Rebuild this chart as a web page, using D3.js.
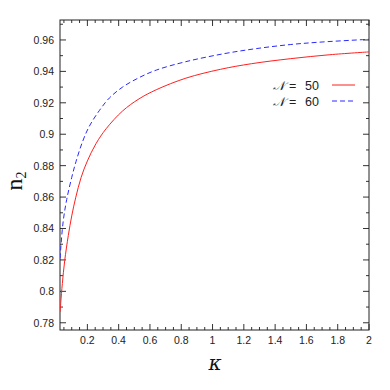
<!DOCTYPE html>
<html><head><meta charset="utf-8">
<script src="https://cdn.jsdelivr.net/npm/d3@7/dist/d3.min.js"></script>
<style>body{margin:0;background:#fff}svg{display:block}</style>
</head><body>
<svg id="c" width="390" height="390"></svg>
<script>
// data
const kappaN50 = [0.026,0.03,0.04,0.055,0.078,0.1,0.125,0.16,0.2,0.255,0.32,0.425,0.53,0.64,0.83,1.05,1.25,1.5,1.75,2.0];
const n2N50    = [0.787,0.793,0.805,0.8195,0.8355,0.848,0.8595,0.8725,0.883,0.894,0.9035,0.9148,0.9225,0.9283,0.9357,0.9413,0.9449,0.9481,0.9506,0.9524];
const kappaN60 = [0.026,0.031,0.046,0.068,0.1,0.127,0.17,0.212,0.276,0.34,0.425,0.53,0.64,0.83,1.07,1.28,1.5,1.7,2.0];
const n2N60    = [0.821,0.829,0.845,0.8585,0.8725,0.8825,0.8955,0.905,0.915,0.923,0.930,0.936,0.9408,0.9462,0.9512,0.9545,0.9571,0.9587,0.9604];
const xTicks = [0.2,0.4,0.6,0.8,1,1.2,1.4,1.6,1.8,2];
const yTicks = [0.78,0.8,0.82,0.84,0.86,0.88,0.9,0.92,0.94,0.96];
const legendLabels = ["50","60"];

const L=60,R=369,T=20,B=330;
const svg=d3.select("#c");
const x=d3.scaleLinear().domain([0.025,2]).range([L,R]);
const y=d3.scaleLinear().domain([0.7754,0.9727]).range([B,T]);

const minorX=d3.range(0.05,2.001,0.05).map(v=>+v.toFixed(2));
const minorY=d3.range(0.78,0.9701,0.01).map(v=>+v.toFixed(2));
const isMajX=v=>xTicks.some(t=>Math.abs(t-v)<1e-6);
const isMajY=v=>yTicks.some(t=>Math.abs(t-v)<1e-6);

const g=svg.append("g");
// ticks (inward on all sides)
const tc="#333";
minorX.forEach(v=>{
  const len=isMajX(v)?6:3, X=x(v);
  g.append("line").attr("x1",X).attr("x2",X).attr("y1",B).attr("y2",B-len).attr("stroke",tc).attr("stroke-width",1);
  g.append("line").attr("x1",X).attr("x2",X).attr("y1",T).attr("y2",T+len).attr("stroke",tc).attr("stroke-width",1);
});
minorY.forEach(v=>{
  const len=isMajY(v)?6:3, Y=y(v);
  g.append("line").attr("x1",L).attr("x2",L+len).attr("y1",Y).attr("y2",Y).attr("stroke",tc).attr("stroke-width",1);
  g.append("line").attr("x1",R).attr("x2",R-len).attr("y1",Y).attr("y2",Y).attr("stroke",tc).attr("stroke-width",1);
});
// frame
g.append("rect").attr("x",L).attr("y",T).attr("width",R-L).attr("height",B-T)
 .attr("fill","none").attr("stroke","#222").attr("stroke-width",1);

// tick labels
const font="'Liberation Sans', Arial, sans-serif";
xTicks.forEach(v=>{
  g.append("text").attr("x",x(v)).attr("y",344).attr("text-anchor","middle")
   .attr("font-family",font).attr("font-size",10.5).attr("fill","#222").text(d3.format("~g")(v));
});
yTicks.forEach(v=>{
  g.append("text").attr("x",54).attr("y",y(v)+4).attr("text-anchor","end")
   .attr("font-family",font).attr("font-size",10.5).attr("fill","#222").text(d3.format("~g")(v));
});

// axis titles
g.append("text").attr("x",215).attr("y",370).attr("text-anchor","middle")
 .attr("font-family","'DejaVu Serif', serif").attr("font-style","italic").attr("font-size",20).attr("fill","#111").text("κ");
const yt=g.append("text").attr("transform","translate(22,181) rotate(-90)").attr("text-anchor","middle")
 .attr("font-family","'Liberation Serif', 'DejaVu Serif', serif").attr("font-size",24).attr("fill","#111");
yt.append("tspan").text("n");
yt.append("tspan").attr("font-size",14).attr("dy",4).text("2");

// lines
const line=d3.line().x(d=>x(d[0])).y(d=>y(d[1])).curve(d3.curveCatmullRom.alpha(0.5));
svg.append("clipPath").attr("id","cp").append("rect").attr("x",L).attr("y",T).attr("width",R-L).attr("height",B-T);
g.append("path").attr("clip-path","url(#cp)").datum(d3.zip(kappaN50,n2N50)).attr("d",line)
 .attr("fill","none").attr("stroke","#ff2020").attr("stroke-width",1);
g.append("path").attr("clip-path","url(#cp)").datum(d3.zip(kappaN60,n2N60)).attr("d",line)
 .attr("fill","none").attr("stroke","#2a2aff").attr("stroke-width",1).attr("stroke-dasharray","5,3");

// legend
const colors=["#ff2020","#2a2aff"], dashes=[null,"5,3"], rows=[85,101];
legendLabels.forEach((lab,i)=>{
  g.append("text").attr("x",273).attr("y",rows[i]+4.5).attr("font-family","'DejaVu Sans', sans-serif")
   .attr("font-style","italic").attr("font-size",12.5).attr("fill","#222").text("𝒩");
  g.append("text").attr("x",289).attr("y",rows[i]+4.5).attr("font-family",font)
   .attr("font-size",12.5).attr("fill","#222").text("=");
  g.append("text").attr("x",305).attr("y",rows[i]+4.5).attr("font-family",font)
   .attr("font-size",12.5).attr("fill","#222").text(lab);
  g.append("line").attr("x1",332).attr("x2",355).attr("y1",rows[i]).attr("y2",rows[i])
   .attr("stroke",colors[i]).attr("stroke-width",1).attr("stroke-dasharray",dashes[i]);
});
</script>
</body></html>
